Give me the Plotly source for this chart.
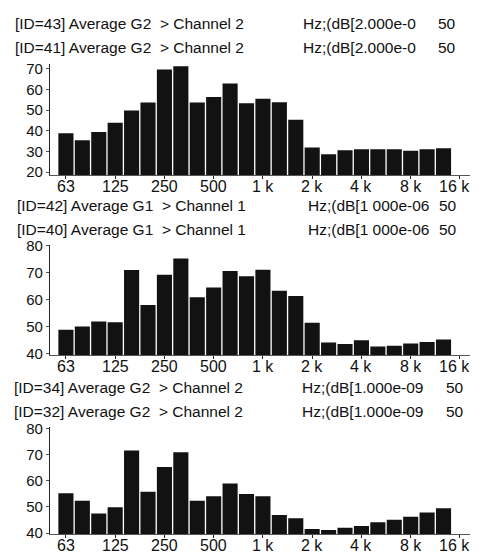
import plotly.graph_objects as go

# 1/3-octave band centres (Hz)
bands = ["63", "80", "100", "125", "160", "200", "250", "315", "400", "500", "630", "800",
         "1k", "1.25k", "1.6k", "2k", "2.5k", "3.15k", "4k", "5k", "6.3k", "8k", "10k", "12.5k"]

# dB levels
panel1 = [38.8, 35.4, 39.4, 43.9, 49.8, 53.7, 69.7, 71.3, 53.7, 56.4, 62.9, 53.3,
          55.5, 53.8, 45.3, 31.9, 28.7, 30.6, 31.1, 31.1, 31.1, 30.3, 31.1, 31.6]
panel2 = [48.9, 50.1, 52.0, 51.7, 71.1, 58.1, 69.3, 75.3, 61.0, 64.6, 70.7, 68.8,
          71.2, 63.4, 61.4, 51.5, 44.2, 43.7, 45.0, 42.7, 43.0, 43.8, 44.4, 45.3]
panel3 = [55.2, 52.4, 47.5, 49.9, 71.5, 55.8, 65.2, 70.8, 52.4, 54.1, 58.9, 54.9,
          54.1, 46.9, 45.7, 41.6, 41.2, 42.1, 42.7, 44.2, 45.1, 46.3, 47.9, 49.5]

# x tick labels (octaves, every third band)
xtick_labels = ["63", "125", "250", "500", "1 k", "2 k", "4 k", "8 k", "16 k"]
xtick_index = [0, 3, 6, 9, 12, 15, 18, 21, 24]

ytick1 = [20, 30, 40, 50, 60, 70]
ytick23 = [40, 50, 60, 70, 80]

headers = [
    ("[ID=43] Average G2\u00a0 > Channel 2", "Hz;(dB[2.000e-0", "50"),
    ("[ID=41] Average G2\u00a0 > Channel 2", "Hz;(dB[2.000e-0", "50"),
    ("[ID=42] Average G1\u00a0 > Channel 1", "Hz;(dB[1 000e-06", "50"),
    ("[ID=40] Average G1\u00a0 > Channel 1", "Hz;(dB[1 000e-06", "50"),
    ("[ID=34] Average G2\u00a0 > Channel 2", "Hz;(dB[1.000e-09", "50"),
    ("[ID=32] Average G2\u00a0 > Channel 2", "Hz;(dB[1.000e-09", "50"),
]

# page body has an 8px margin: the figure is drawn 8px in from the window edge
OFF = 8
W, H = 478 - OFF, 558 - OFF
FONT = "Liberation Sans, Arial, sans-serif"


def px_x(x):
    return (x - OFF) / W


def px_y(y):
    return 1 - (y - OFF) / H


xs = list(range(len(bands)))
fig = go.Figure()
series = [panel1, panel2, panel3]
for i, vals in enumerate(series):
    sfx = "" if i == 0 else str(i + 1)
    fig.add_trace(go.Bar(
        x=xs, y=vals, width=0.92,
        marker=dict(color="#121212", line=dict(width=0)),
        xaxis="x" + sfx, yaxis="y" + sfx, showlegend=False,
        hovertext=bands, hoverinfo="text+y",
    ))

domains = [(171.7, 57), (357, 243), (541, 431)]
yranges = [[18.5, 72.5], [39.4, 80.5], [39.5, 80.3]]
yticks = [ytick1, ytick23, ytick23]
XL = 50
xrange_ = [-0.97, 25.1]

layout = dict(
    width=W, height=H,
    margin=dict(l=0, r=0, t=0, b=0),
    paper_bgcolor="white", plot_bgcolor="white",
    font=dict(family=FONT, color="#111111"),
    bargap=0.08,
)
ann = []
for i in range(3):
    sfx = "" if i == 0 else str(i + 1)
    b, t = domains[i]
    layout["xaxis" + sfx] = dict(
        domain=[px_x(XL), 1], range=xrange_, anchor="y" + sfx,
        tickmode="array", tickvals=xtick_index, showticklabels=False,
        ticks="outside", ticklen=3, tickcolor="#222", tickwidth=1,
        showline=True, linecolor="#555", linewidth=1,
        showgrid=False, zeroline=False,
    )
    layout["yaxis" + sfx] = dict(
        domain=[px_y(b), px_y(t)], range=yranges[i], anchor="x" + sfx,
        tickmode="array", tickvals=yticks[i],
        ticks="outside", ticklen=3, tickcolor="#555",
        showline=True, linecolor="#222", linewidth=1.2,
        showgrid=False, zeroline=False,
        tickfont=dict(size=15, family=FONT, color="#111"),
    )
    # x tick labels sit tight under the baseline
    for j, (tv, tt) in enumerate(zip(xtick_index, xtick_labels)):
        ann.append(dict(text=tt, x=tv, xref="x" + sfx, y=px_y(b + 11.5), yref="paper",
                        xanchor="center", yanchor="middle", showarrow=False,
                        xshift=-5 if j == len(xtick_labels) - 1 else 0,
                        font=dict(size=16, family=FONT, color="#111")))

line_px = [16, 40, 203, 227, 390, 415]
left_px = [13, 13, 15, 15, 12, 12]
hz_px = [301, 301, 306, 306, 300, 300]
n_px = [436, 436, 437, 437, 444, 444]
for k, (a, hz, n) in enumerate(headers):
    yy = px_y(line_px[k])
    for txt, xp in ((a, left_px[k]), (hz, hz_px[k]), (n, n_px[k])):
        ann.append(dict(text=txt, x=px_x(xp), y=yy, xref="paper", yref="paper",
                        xanchor="left", yanchor="middle", showarrow=False,
                        font=dict(size=15.5, family=FONT, color="#111")))
layout["annotations"] = ann

fig.update_layout(**layout)
fig.write_html("out.html")
